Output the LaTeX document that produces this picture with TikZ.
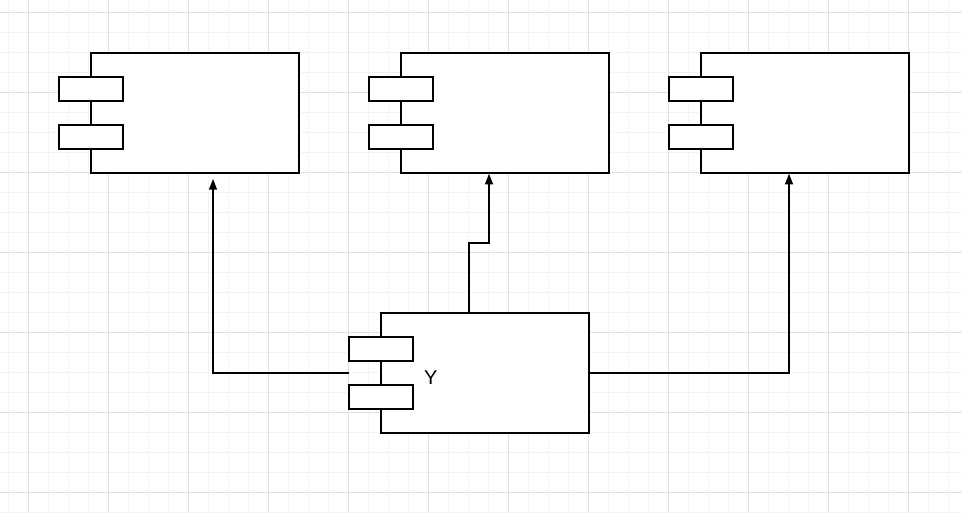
\documentclass[tikz,border=0pt]{standalone}
\usepackage{fontspec}
\setmainfont{Liberation Sans}
\usetikzlibrary{arrows.meta,positioning}
\begin{document}
\begin{tikzpicture}[x=0.75pt, y=-0.75pt, thick]

  % Define Colors
  \definecolor{gridminor}{RGB}{243,243,243}
  \definecolor{gridmajor}{RGB}{224,224,224}

  % Styles
  \tikzstyle{comp}=[rectangle, draw, line width=1.1pt, fill=white, minimum width=156pt, minimum height=90pt, inner sep=0pt]
  \tikzstyle{port}=[rectangle, draw, line width=1.1pt, fill=white, minimum width=48pt, minimum height=18pt, inner sep=0pt]
  \tikzstyle{link}=[line width=1.1pt, -{Triangle[width=6pt,length=8pt]}]

  \useasboundingbox (0,0) rectangle (962,512);
  \fill[white] (0,0) rectangle (962,512);

  % Grid
  \foreach \x in {8,28,...,962} \draw[gridminor, line width=0.6pt] (\x,0) -- (\x,512);
  \foreach \y in {12,32,...,512} \draw[gridminor, line width=0.6pt] (0,\y) -- (962,\y);
  \foreach \x in {28,108,...,962} \draw[gridmajor, line width=0.6pt] (\x,0) -- (\x,512);
  \foreach \y in {12,92,...,512} \draw[gridmajor, line width=0.6pt] (0,\y) -- (962,\y);

  % Components
  \node[comp] (c_1) at (195,113) {};
  \node[port] (p_1a) at (91,89) {};
  \node[port] (p_1b) at (91,137) {};

  \node[comp] (c_2) at (505,113) {};
  \node[port] (p_2a) at (401,89) {};
  \node[port] (p_2b) at (401,137) {};

  \node[comp] (c_3) at (805,113) {};
  \node[port] (p_3a) at (701,89) {};
  \node[port] (p_3b) at (701,137) {};

  \node[comp] (c_y) at (485,373) {};
  \node[port] (p_ya) at (381,349) {};
  \node[port] (p_yb) at (381,397) {};
  \node[font=\fontsize{15}{18}\selectfont, right=4pt of p_ya.south east, anchor=west, yshift=-12pt] (y_lbl) {Y};

  % Links
  \coordinate (y_in) at (349,373);
  \coordinate (t_1) at (213,179);
  \draw[link] (y_in) -| (t_1);
  \draw[link] (469,313) -- (469,243) -| (c_2.south -| 489,0);
  \draw[link] (c_y.east) -| (c_3.south -| 789,0);

\end{tikzpicture}
\end{document}
